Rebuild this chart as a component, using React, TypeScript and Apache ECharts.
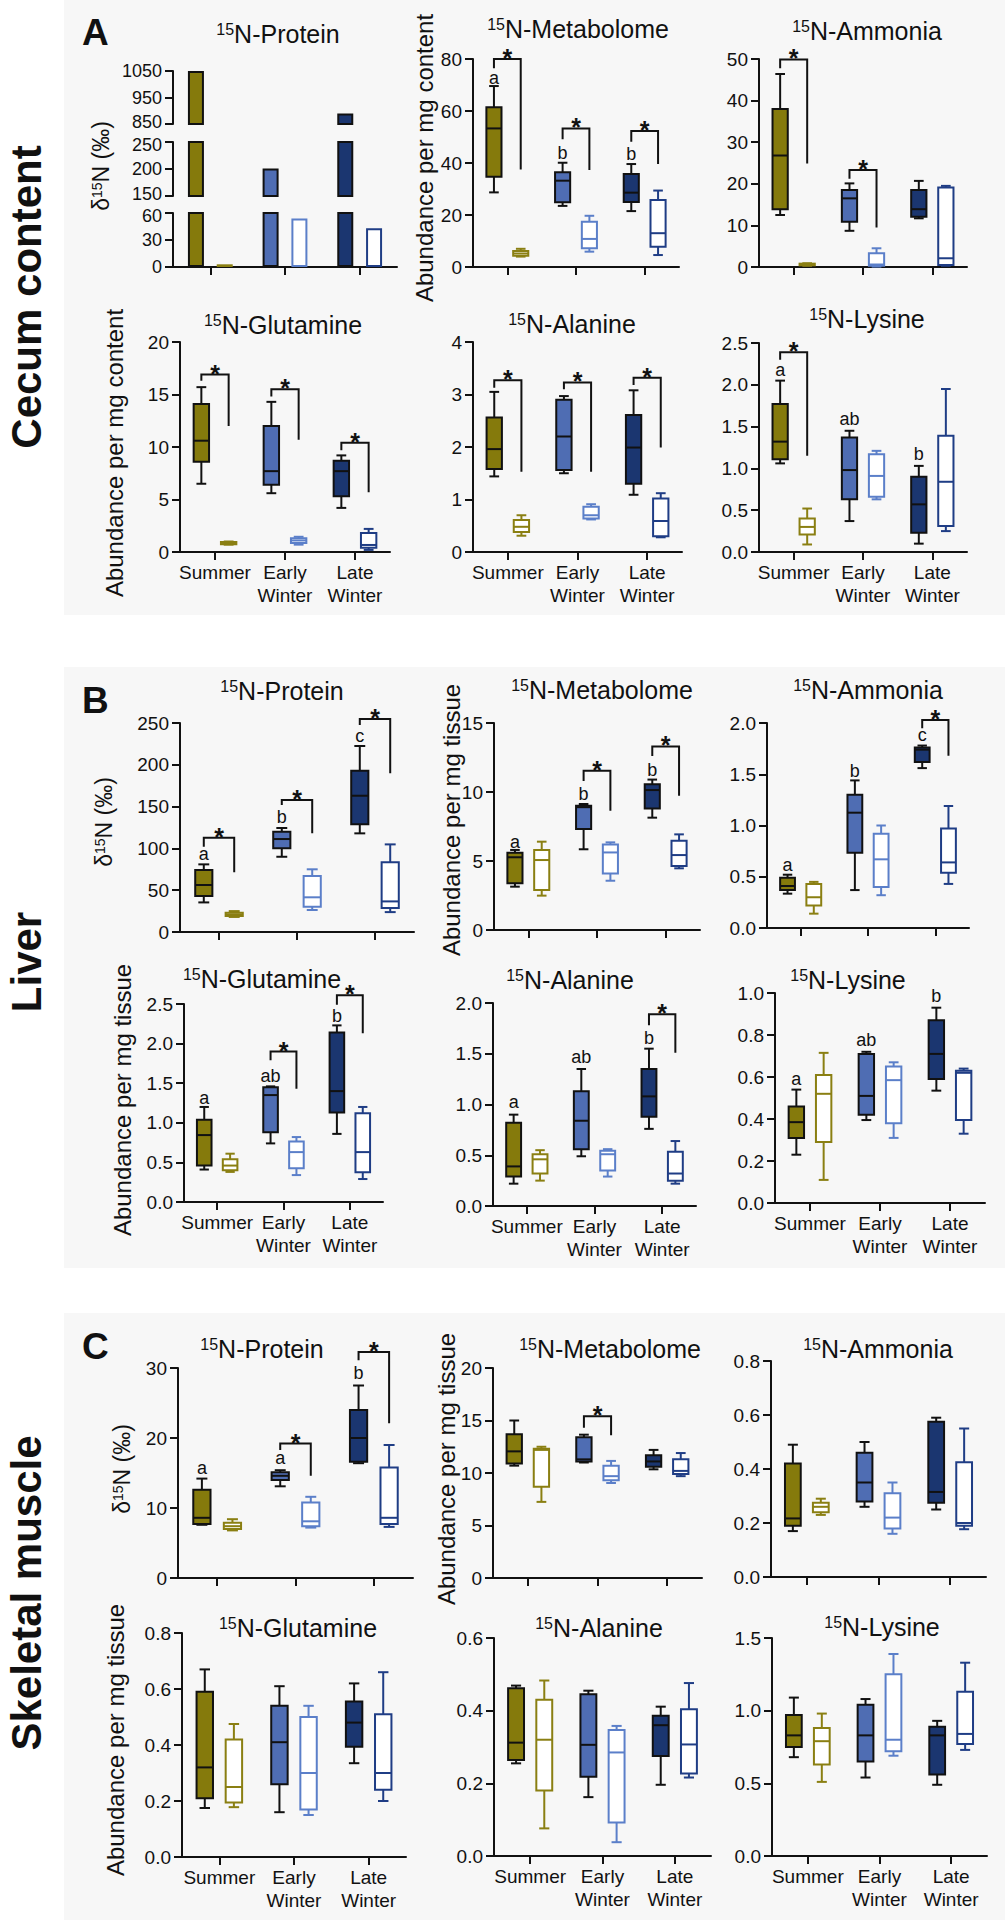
import React, { useEffect, useRef } from 'react';
import * as echarts from 'echarts';

const FF = "'Liberation Sans', Arial, Helvetica, sans-serif";
const INK = '#111111';
const FILL = ['#857a0c', '#4f6db3', '#1b3670'];
const OPEN = ['#8a7f12', '#5b7fc9', '#1f3d85'];

const seasons = ['Summer', 'Early\nWinter', 'Late\nWinter'];

// ---- Cecum content (A) ----
const cecumProteinFilled = [1050, 201, 890];
const cecumProteinOpen = [3, 54, 43];
const cecumProteinTicks = [[850, 950, 1050], [150, 200, 250], [0, 30, 60]];

// rows: summer filled, summer open, early filled, early open, late filled, late open ; [min, q1, median, q3, max]
const cecumMetabolome = [
  [28.7, 34.7, 53.3, 61.4, 69.6],
  [4.0, 4.3, 5.2, 6.2, 7.0],
  [23.5, 24.9, 33.2, 36.4, 40.1],
  [5.9, 7.2, 10.8, 17.4, 19.7],
  [21.5, 25.0, 28.6, 35.8, 39.6],
  [4.6, 7.8, 13.0, 25.8, 29.4],
];
const cecumMetabolomeBrackets = [[0, 80, 76.4, 37.5], [1, 53.3, 49.1, 37.3], [2, 52.3, 48.2, 39.6]];
const cecumMetabolomeLetters: [number, number, string][] = [[0, 72.8, 'a'], [1, 43.7, 'b'], [2, 43.5, 'b']];

const cecumAmmonia = [
  [12.5, 13.9, 26.8, 38.0, 46.4],
  [0.3, 0.4, 0.6, 0.8, 0.9],
  [8.7, 10.9, 16.5, 18.5, 20.1],
  [0.1, 0.3, 0.6, 3.3, 4.5],
  [11.7, 12.1, 13.9, 18.5, 20.7],
  [0.3, 0.5, 2.1, 19.1, 19.5],
];
const cecumAmmoniaBrackets = [[0, 49.9, 47.8, 24.9], [1, 23.3, 21.2, 9.5]];

const cecumGlutamine = [
  [6.5, 8.6, 10.6, 14.1, 15.7],
  [0.7, 0.75, 0.85, 0.95, 1.0],
  [5.6, 6.4, 7.7, 12.0, 14.3],
  [0.7, 0.85, 1.1, 1.3, 1.45],
  [4.2, 5.3, 7.7, 8.7, 9.2],
  [0.2, 0.4, 0.67, 1.8, 2.2],
];
const cecumGlutamineBrackets = [[0, 16.9, 16.3, 12.0], [1, 15.5, 14.8, 10.7], [2, 10.4, 9.7, 5.7]];

const cecumAlanine = [
  [1.44, 1.58, 1.96, 2.56, 3.05],
  [0.31, 0.38, 0.48, 0.61, 0.7],
  [1.5, 1.56, 2.2, 2.9, 2.97],
  [0.62, 0.64, 0.7, 0.86, 0.91],
  [1.09, 1.3, 1.99, 2.61, 3.08],
  [0.28, 0.3, 0.59, 1.02, 1.12],
];
const cecumAlanineBrackets = [[0, 3.27, 3.13, 1.53], [1, 3.23, 3.1, 1.53], [2, 3.32, 3.18, 1.99]];

const cecumLysine = [
  [1.06, 1.11, 1.32, 1.77, 2.05],
  [0.09, 0.21, 0.3, 0.4, 0.52],
  [0.37, 0.63, 0.98, 1.37, 1.45],
  [0.63, 0.66, 0.91, 1.17, 1.21],
  [0.1, 0.23, 0.57, 0.9, 1.03],
  [0.25, 0.31, 0.84, 1.39, 1.95],
];
const cecumLysineBrackets = [[0, 2.39, 2.3, 1.15]];
const cecumLysineLetters: [number, number, string][] = [[0, 2.18, 'a'], [1, 1.59, 'ab'], [2, 1.17, 'b']];

// ---- Liver (B) ----
const liverProtein = [
  [35.4, 43, 56.2, 74.2, 80.9],
  [18, 19, 21, 23, 25],
  [90, 100.1, 111.2, 120, 124.4],
  [26.3, 30.2, 41.5, 67, 75],
  [118, 128.8, 163, 193, 222.5],
  [23.8, 28.6, 36.6, 83.3, 104.8],
];
const liverProteinBrackets = [[0, 112.8, 102, 71.4], [1, 158, 152, 118], [2, 254.8, 247.6, 189.8]];
const liverProteinLetters: [number, number, string][] = [[0, 93.3, 'a'], [1, 137.2, 'b'], [2, 234.5, 'c']];

const liverMetabolome = [
  [3.14, 3.38, 5.27, 5.6, 5.8],
  [2.49, 2.9, 5.07, 5.8, 6.4],
  [5.85, 7.32, 8.9, 9.0, 9.13],
  [3.57, 4.1, 5.62, 6.2, 6.35],
  [8.14, 8.8, 10.14, 10.56, 10.9],
  [4.47, 4.64, 5.43, 6.47, 6.93],
];
const liverMetabolomeBrackets = [[1, 11.54, 10.8, 8.64], [2, 13.3, 12.6, 9.73]];
const liverMetabolomeLetters: [number, number, string][] = [[0, 6.4, 'a'], [1, 9.83, 'b'], [2, 11.6, 'b']];

const liverAmmonia = [
  [0.335, 0.37, 0.41, 0.49, 0.52],
  [0.14, 0.22, 0.3, 0.43, 0.45],
  [0.37, 0.735, 1.125, 1.3, 1.44],
  [0.32, 0.4, 0.67, 0.92, 1.0],
  [1.56, 1.62, 1.74, 1.76, 1.78],
  [0.43, 0.54, 0.64, 0.97, 1.19],
];
const liverAmmoniaBrackets = [[2, 2.03, 1.95, 1.68]];
const liverAmmoniaLetters: [number, number, string][] = [[0, 0.61, 'a'], [1, 1.53, 'b'], [2, 1.88, 'c']];

const liverGlutamine = [
  [0.41, 0.46, 0.845, 1.04, 1.2],
  [0.38, 0.4, 0.46, 0.54, 0.61],
  [0.74, 0.88, 1.35, 1.45, 1.46],
  [0.34, 0.425, 0.63, 0.765, 0.82],
  [0.86, 1.13, 1.4, 2.14, 2.23],
  [0.29, 0.375, 0.63, 1.12, 1.2],
];
const liverGlutamineBrackets = [[1, 1.9, 1.79, 1.43], [2, 2.61, 2.49, 2.13]];
const liverGlutamineLetters: [number, number, string][] = [[0, 1.31, 'a'], [1, 1.59, 'ab'], [2, 2.35, 'b']];

const liverAlanine = [
  [0.22, 0.29, 0.39, 0.82, 0.9],
  [0.25, 0.32, 0.46, 0.51, 0.55],
  [0.49, 0.56, 0.84, 1.13, 1.35],
  [0.29, 0.35, 0.51, 0.545, 0.56],
  [0.76, 0.88, 1.08, 1.35, 1.55],
  [0.22, 0.25, 0.32, 0.535, 0.64],
];
const liverAlanineBrackets = [[2, 1.89, 1.78, 1.51]];
const liverAlanineLetters: [number, number, string][] = [[0, 1.02, 'a'], [1, 1.47, 'ab'], [2, 1.66, 'b']];

const liverLysine = [
  [0.23, 0.31, 0.385, 0.46, 0.54],
  [0.11, 0.29, 0.52, 0.61, 0.715],
  [0.395, 0.42, 0.51, 0.71, 0.72],
  [0.31, 0.38, 0.585, 0.65, 0.67],
  [0.535, 0.59, 0.71, 0.87, 0.93],
  [0.33, 0.395, 0.62, 0.63, 0.64],
];
const liverLysineLetters: [number, number, string][] = [[0, 0.59, 'a'], [1, 0.775, 'ab'], [2, 0.985, 'b']];

// ---- Skeletal muscle (C) ----
const muscleProtein = [
  [7.6, 7.7, 8.6, 12.6, 14.2],
  [6.8, 7.0, 7.4, 7.9, 8.4],
  [13.1, 14.0, 14.6, 15.1, 15.4],
  [7.2, 7.4, 8.1, 10.8, 11.6],
  [16.4, 16.6, 20.0, 24.0, 27.5],
  [7.3, 7.7, 8.6, 15.8, 19.0],
];
const muscleProteinBrackets = [[1, 19.2, 18.3, 14.6], [2, 32.3, 31.1, 22.1]];
const muscleProteinLetters: [number, number, string][] = [[0, 15.7, 'a'], [1, 17.1, 'a'], [2, 29.3, 'b']];

const muscleMetabolome = [
  [10.7, 10.9, 12.06, 13.7, 15.0],
  [7.25, 8.7, 12.2, 12.3, 12.5],
  [11.0, 11.1, 11.3, 13.4, 13.65],
  [9.05, 9.3, 9.7, 10.7, 11.15],
  [10.35, 10.6, 11.1, 11.7, 12.2],
  [9.7, 9.9, 10.2, 11.3, 11.9],
];
const muscleMetabolomeBrackets = [[1, 15.4, 14.3, 13.6]];

const muscleAmmonia = [
  [0.17, 0.19, 0.217, 0.42, 0.49],
  [0.23, 0.24, 0.26, 0.275, 0.29],
  [0.26, 0.28, 0.35, 0.46, 0.5],
  [0.16, 0.18, 0.22, 0.31, 0.35],
  [0.25, 0.275, 0.315, 0.575, 0.59],
  [0.177, 0.19, 0.2, 0.425, 0.55],
];

const muscleGlutamine = [
  [0.175, 0.21, 0.32, 0.59, 0.67],
  [0.178, 0.195, 0.25, 0.42, 0.475],
  [0.16, 0.26, 0.41, 0.54, 0.61],
  [0.15, 0.17, 0.3, 0.5, 0.54],
  [0.335, 0.394, 0.48, 0.555, 0.62],
  [0.2, 0.24, 0.3, 0.51, 0.66],
];

const muscleAlanine = [
  [0.255, 0.264, 0.312, 0.462, 0.469],
  [0.076, 0.18, 0.32, 0.43, 0.483],
  [0.162, 0.218, 0.306, 0.445, 0.455],
  [0.038, 0.092, 0.285, 0.347, 0.358],
  [0.196, 0.275, 0.36, 0.386, 0.411],
  [0.216, 0.227, 0.307, 0.404, 0.476],
];

const muscleLysine = [
  [0.68, 0.75, 0.83, 0.97, 1.09],
  [0.51, 0.63, 0.79, 0.88, 0.98],
  [0.54, 0.65, 0.83, 1.04, 1.08],
  [0.69, 0.72, 0.8, 1.25, 1.39],
  [0.49, 0.56, 0.83, 0.89, 0.93],
  [0.73, 0.77, 0.84, 1.13, 1.33],
];

// ---- layout ----
type Panel = {
  title: string; tx: number; ty: number;
  left: number; right: number; top: number; bottom: number;
  max: number; interval: number; dec: number;
  boxes: number[][]; brackets?: number[][]; letters?: [number, number, string][];
  xLabels: boolean;
};

const panels: Panel[] = [
  { title: 'N-Metabolome', tx: 578, ty: 29, left: 473, right: 679, top: 59, bottom: 267, max: 80, interval: 20, dec: 0, boxes: cecumMetabolome, brackets: cecumMetabolomeBrackets, letters: cecumMetabolomeLetters, xLabels: false },
  { title: 'N-Ammonia', tx: 867, ty: 31, left: 759, right: 967, top: 59, bottom: 267, max: 50, interval: 10, dec: 0, boxes: cecumAmmonia, brackets: cecumAmmoniaBrackets, xLabels: false },
  { title: 'N-Glutamine', tx: 283, ty: 325, left: 180, right: 390, top: 342, bottom: 552, max: 20, interval: 5, dec: 0, boxes: cecumGlutamine, brackets: cecumGlutamineBrackets, xLabels: true },
  { title: 'N-Alanine', tx: 572, ty: 324, left: 473, right: 682, top: 342, bottom: 552, max: 4, interval: 1, dec: 0, boxes: cecumAlanine, brackets: cecumAlanineBrackets, xLabels: true },
  { title: 'N-Lysine', tx: 867, ty: 319, left: 759, right: 967, top: 343, bottom: 552, max: 2.5, interval: 0.5, dec: 1, boxes: cecumLysine, brackets: cecumLysineBrackets, letters: cecumLysineLetters, xLabels: true },

  { title: 'N-Protein', tx: 282, ty: 691, left: 180, right: 414, top: 723, bottom: 932, max: 250, interval: 50, dec: 0, boxes: liverProtein, brackets: liverProteinBrackets, letters: liverProteinLetters, xLabels: false },
  { title: 'N-Metabolome', tx: 602, ty: 690, left: 494, right: 700, top: 723, bottom: 930, max: 15, interval: 5, dec: 0, boxes: liverMetabolome, brackets: liverMetabolomeBrackets, letters: liverMetabolomeLetters, xLabels: false },
  { title: 'N-Ammonia', tx: 868, ty: 690, left: 767, right: 969, top: 723, bottom: 928, max: 2, interval: 0.5, dec: 1, boxes: liverAmmonia, brackets: liverAmmoniaBrackets, letters: liverAmmoniaLetters, xLabels: false },
  { title: 'N-Glutamine', tx: 262, ty: 979, left: 184, right: 383, top: 1004, bottom: 1202, max: 2.5, interval: 0.5, dec: 1, boxes: liverGlutamine, brackets: liverGlutamineBrackets, letters: liverGlutamineLetters, xLabels: true },
  { title: 'N-Alanine', tx: 570, ty: 980, left: 493, right: 696, top: 1003, bottom: 1206, max: 2, interval: 0.5, dec: 1, boxes: liverAlanine, brackets: liverAlanineBrackets, letters: liverAlanineLetters, xLabels: true },
  { title: 'N-Lysine', tx: 848, ty: 980, left: 775, right: 985, top: 993, bottom: 1203, max: 1, interval: 0.2, dec: 1, boxes: liverLysine, letters: liverLysineLetters, xLabels: true },

  { title: 'N-Protein', tx: 262, ty: 1349, left: 178, right: 413, top: 1368, bottom: 1578, max: 30, interval: 10, dec: 0, boxes: muscleProtein, brackets: muscleProteinBrackets, letters: muscleProteinLetters, xLabels: false },
  { title: 'N-Metabolome', tx: 610, ty: 1349, left: 493, right: 702, top: 1368, bottom: 1578, max: 20, interval: 5, dec: 0, boxes: muscleMetabolome, brackets: muscleMetabolomeBrackets, xLabels: false },
  { title: 'N-Ammonia', tx: 878, ty: 1349, left: 771, right: 986, top: 1361, bottom: 1577, max: 0.8, interval: 0.2, dec: 1, boxes: muscleAmmonia, xLabels: false },
  { title: 'N-Glutamine', tx: 298, ty: 1628, left: 182, right: 406, top: 1633, bottom: 1857, max: 0.8, interval: 0.2, dec: 1, boxes: muscleGlutamine, xLabels: true },
  { title: 'N-Alanine', tx: 599, ty: 1628, left: 494, right: 711, top: 1638, bottom: 1856, max: 0.6, interval: 0.2, dec: 1, boxes: muscleAlanine, xLabels: true },
  { title: 'N-Lysine', tx: 882, ty: 1627, left: 772, right: 987, top: 1638, bottom: 1856, max: 1.5, interval: 0.5, dec: 1, boxes: muscleLysine, xLabels: true },
];

const brokenSegs = [
  { top: 71, bottom: 124 },
  { top: 142, bottom: 196 },
  { top: 213, bottom: 267 },
];
const brokenLeft = 173, brokenRight = 397;

const yNames = [
  { kind: 'delta', x: 101, y: 166 },
  { kind: 'Abundance per mg content', x: 424, y: 158 },
  { kind: 'Abundance per mg content', x: 114, y: 453 },
  { kind: 'delta', x: 104, y: 822 },
  { kind: 'Abundance per mg tissue', x: 451, y: 820 },
  { kind: 'Abundance per mg tissue', x: 122, y: 1100 },
  { kind: 'delta', x: 122, y: 1469 },
  { kind: 'Abundance per mg tissue', x: 446, y: 1469 },
  { kind: 'Abundance per mg tissue', x: 115, y: 1740 },
];

const OFF = 0.195, BOXW = 0.22, CAPW = 0.14;

function renderBox(params: any, api: any) {
  const cat = api.value(0);
  const side = api.value(1);
  const band = api.size([1, 0])[0];
  const cx = api.coord([cat, 0])[0] + (side === 0 ? -1 : 1) * band * OFF;
  const y = [2, 3, 4, 5, 6].map((d) => api.coord([cat, api.value(d)])[1]);
  const w = band * BOXW, cw = band * CAPW;
  const filled = side === 0;
  const stroke = filled ? INK : OPEN[cat];
  const ls = { stroke, lineWidth: 2 };
  return {
    type: 'group',
    children: [
      { type: 'line', shape: { x1: cx, y1: y[4], x2: cx, y2: y[3] }, style: ls },
      { type: 'line', shape: { x1: cx, y1: y[1], x2: cx, y2: y[0] }, style: ls },
      { type: 'line', shape: { x1: cx - cw / 2, y1: y[4], x2: cx + cw / 2, y2: y[4] }, style: ls },
      { type: 'line', shape: { x1: cx - cw / 2, y1: y[0], x2: cx + cw / 2, y2: y[0] }, style: ls },
      { type: 'rect', shape: { x: cx - w / 2, y: y[3], width: w, height: Math.max(y[1] - y[3], 1) }, style: { fill: filled ? FILL[cat] : '#ffffff', stroke, lineWidth: 2 } },
      { type: 'line', shape: { x1: cx - w / 2, y1: y[2], x2: cx + w / 2, y2: y[2] }, style: ls },
    ],
  };
}

function renderBracket(params: any, api: any) {
  const cat = api.value(0);
  const band = api.size([1, 0])[0];
  const cx = api.coord([cat, 0])[0];
  const xl = cx - band * OFF, xr = cx + band * OFF;
  const yt = api.coord([cat, api.value(1)])[1];
  const yl = api.coord([cat, api.value(2)])[1];
  const yr = api.coord([cat, api.value(3)])[1];
  return {
    type: 'group',
    children: [
      { type: 'polyline', shape: { points: [[xl, yl], [xl, yt], [xr, yt], [xr, yr]] }, style: { stroke: INK, lineWidth: 2, fill: 'none' } },
      { type: 'text', x: cx, y: yt - 1, style: { text: '*', fontSize: 25, fontWeight: 'bold', fontFamily: FF, fill: INK, align: 'center', verticalAlign: 'middle' } },
    ],
  };
}

function makeLetterRender(letters: [number, number, string][]) {
  return (params: any, api: any) => {
    const cat = api.value(0);
    const band = api.size([1, 0])[0];
    const p = api.coord([cat, api.value(1)]);
    return {
      type: 'text', x: p[0] - band * OFF, y: p[1],
      style: { text: letters[params.dataIndex][2], fontSize: 18, fontFamily: FF, fill: INK, align: 'center', verticalAlign: 'middle' },
    };
  };
}

const axisLineStyle = { lineStyle: { color: INK, width: 2 } };

function buildOption() {
  const grid: any[] = [];
  const xAxis: any[] = [];
  const yAxis: any[] = [];
  const series: any[] = [];

  panels.forEach((p, i) => {
    grid.push({ left: p.left, top: p.top, width: p.right - p.left, height: p.bottom - p.top, containLabel: false });
    xAxis.push({
      type: 'category', gridIndex: i, data: seasons, boundaryGap: true,
      axisLine: { show: true, onZero: false, ...axisLineStyle },
      axisTick: { show: true, alignWithLabel: true, length: 8, lineStyle: { color: INK, width: 2 } },
      axisLabel: { show: p.xLabels, interval: 0, fontSize: 19, lineHeight: 23, margin: 9, color: INK, fontFamily: FF },
      splitLine: { show: false },
    });
    yAxis.push({
      type: 'value', gridIndex: i, min: 0, max: p.max, interval: p.interval,
      axisLine: { show: true, ...axisLineStyle },
      axisTick: { show: true, length: 8, lineStyle: { color: INK, width: 2 } },
      axisLabel: { fontSize: 19, margin: 11, color: INK, fontFamily: FF, formatter: (v: number) => v.toFixed(p.dec) },
      splitLine: { show: false },
    });
    series.push({
      type: 'custom', xAxisIndex: i, yAxisIndex: i, renderItem: renderBox, z: 3,
      data: p.boxes.map((b, k) => [Math.floor(k / 2), k % 2, ...b]),
    });
    if (p.brackets) {
      series.push({ type: 'custom', xAxisIndex: i, yAxisIndex: i, renderItem: renderBracket, z: 4, data: p.brackets });
    }
    if (p.letters) {
      series.push({ type: 'custom', xAxisIndex: i, yAxisIndex: i, renderItem: makeLetterRender(p.letters), z: 4, data: p.letters.map((l) => [l[0], l[1]]) });
    }
  });

  const segRich = {
    n: { fontSize: 18, fontFamily: FF, color: INK },
    d: { fontSize: 18, fontFamily: FF, color: INK, padding: [5, 0, 0, 0] },
    u: { fontSize: 18, fontFamily: FF, color: INK, padding: [0, 0, 5, 0] },
  };

  brokenSegs.forEach((s, k) => {
    const gi = panels.length + k;
    const ticks = cecumProteinTicks[k];
    const smin = ticks[0], smax = ticks[ticks.length - 1];
    const isBottom = k === brokenSegs.length - 1;
    const isTop = k === 0;
    grid.push({ left: brokenLeft, top: s.top, width: brokenRight - brokenLeft, height: s.bottom - s.top, containLabel: false });
    xAxis.push({
      type: 'category', gridIndex: gi, data: seasons, show: isBottom,
      axisLine: { show: true, onZero: false, ...axisLineStyle },
      axisTick: { show: true, alignWithLabel: true, length: 8, lineStyle: { color: INK, width: 2 } },
      axisLabel: { show: false },
    });
    yAxis.push({
      type: 'value', gridIndex: gi, min: smin, max: smax,
      axisLine: { show: true, ...axisLineStyle },
      axisTick: { show: true, length: 8, customValues: ticks, lineStyle: { color: INK, width: 2 } },
      axisLabel: {
        fontSize: 18, margin: 11, color: INK, fontFamily: FF, customValues: ticks, rich: segRich,
        formatter: (v: number) => {
          const t = String(Math.round(v));
          if (v === smax && !isTop) return `{d|${t}}`;
          if (v === smin && !isBottom) return `{u|${t}}`;
          return `{n|${t}}`;
        },
      },
      splitLine: { show: false },
    });
    series.push({
      type: 'bar', xAxisIndex: gi, yAxisIndex: gi, barWidth: 16, barGap: '80%', clip: true,
      data: cecumProteinFilled.map((v, c) => (v > smin ? { value: v, itemStyle: { color: FILL[c], borderColor: INK, borderWidth: 2 } } : '-')),
    });
    series.push({
      type: 'bar', xAxisIndex: gi, yAxisIndex: gi, barWidth: 16, barGap: '80%', clip: true,
      data: cecumProteinOpen.map((v, c) => (v > smin ? { value: v, itemStyle: { color: '#ffffff', borderColor: OPEN[c], borderWidth: 2 } } : '-')),
    });
  });

  const graphic: any[] = [];
  [
    { y: 0, h: 615 },
    { y: 667, h: 601 },
    { y: 1313, h: 607 },
  ].forEach((r) => graphic.push({ type: 'rect', z: -10, shape: { x: 64, y: r.y, width: 941, height: r.h }, style: { fill: '#f7f7f7' } }));

  [
    { t: 'A', y: 32 },
    { t: 'B', y: 700 },
    { t: 'C', y: 1346 },
  ].forEach((l) => graphic.push({
    type: 'text', x: 82, y: l.y, z: 10,
    style: { text: l.t, fontSize: 37, fontWeight: 'bold', fontFamily: "'Liberation Sans Narrow', 'Liberation Sans', Arial, sans-serif", fill: INK, align: 'left', verticalAlign: 'middle' },
  }));

  [
    { t: 'Cecum content', y: 297 },
    { t: 'Liver', y: 962 },
    { t: 'Skeletal muscle', y: 1593 },
  ].forEach((l) => graphic.push({
    type: 'text', x: 26, y: l.y, rotation: Math.PI / 2, z: 10,
    style: { text: l.t, fontSize: 42, fontWeight: 'bold', fontFamily: FF, fill: INK, align: 'center', verticalAlign: 'middle' },
  }));

  const titleRich = {
    s: { fontSize: 16, fontFamily: FF, fill: INK, verticalAlign: 'top' },
    m: { fontSize: 25, fontFamily: FF, fill: INK },
  };
  const titles = [{ title: 'N-Protein', tx: 278, ty: 34 }, ...panels];
  titles.forEach((p) => graphic.push({
    type: 'text', x: p.tx, y: p.ty, z: 10,
    style: { text: `{s|15}{m|${p.title}}`, rich: titleRich, align: 'center', verticalAlign: 'middle' },
  }));

  const nameRich = {
    s: { fontSize: 14, fontFamily: FF, fill: INK, verticalAlign: 'top' },
    m: { fontSize: 23, fontFamily: FF, fill: INK },
    a: { fontSize: 24, fontFamily: FF, fill: INK },
  };
  yNames.forEach((n) => graphic.push({
    type: 'text', x: n.x, y: n.y, rotation: Math.PI / 2, z: 10,
    style: {
      text: n.kind === 'delta' ? '{m|δ}{s|15}{m|N (‰)}' : `{a|${n.kind}}`,
      rich: nameRich, align: 'center', verticalAlign: 'middle',
    },
  }));

  return {
    animation: false,
    backgroundColor: '#ffffff',
    textStyle: { fontFamily: FF },
    grid, xAxis, yAxis, series, graphic,
  };
}

export default function App() {
  const ref = useRef<HTMLDivElement>(null);
  useEffect(() => {
    if (!ref.current) return;
    const chart = echarts.init(ref.current, undefined, { renderer: 'svg' });
    chart.setOption(buildOption() as any);
    return () => chart.dispose();
  }, []);
  return <div ref={ref} style={{ position: 'absolute', left: 0, top: 0, width: 1005, height: 1920 }} />;
}
